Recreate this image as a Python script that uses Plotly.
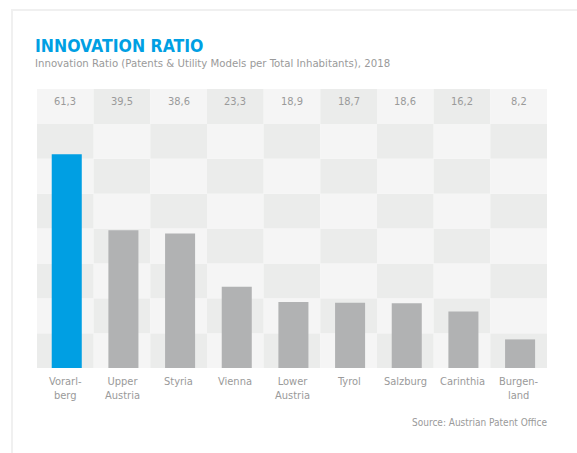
import plotly.graph_objects as go

regions = ["Vorarlberg", "Upper Austria", "Styria", "Vienna", "Lower Austria",
           "Tyrol", "Salzburg", "Carinthia", "Burgenland"]
tick_labels = ["Vorarl-<br>berg", "Upper<br>Austria", "Styria", "Vienna",
               "Lower<br>Austria", "Tyrol", "Salzburg", "Carinthia", "Burgen-<br>land"]
ratio = [61.3, 39.5, 38.6, 23.3, 18.9, 18.7, 18.6, 16.2, 8.2]
highlight = "Vorarlberg"

title = "INNOVATION RATIO"
subtitle = "Innovation Ratio (Patents & Utility Models per Total Inhabitants), 2018"
source = "Source: Austrian Patent Office"

W, H = 577, 453
L, R, T, B = 37, 547, 89, 368
def px(x): return (x - L) / (R - L)
def py(y): return (B - y) / (B - T)

FONT = "Liberation Sans Narrow, DejaVu Sans Condensed, Roboto Condensed, Roboto, sans-serif"
BLUE = "#009fe3"
GREY = "#b1b2b3"
TXT = "#9a9a9a"
LIGHT = "#f5f5f5"
DARK = "#ebeceb"

xs = list(range(len(regions)))
colors = [BLUE if r == highlight else GREY for r in regions]

fig = go.Figure()
fig.add_trace(go.Bar(x=xs, y=ratio, marker=dict(color=colors, line=dict(width=0)),
                     width=0.53, offset=-0.24, hoverinfo="skip"))

shapes = []
# card frame
shapes.append(dict(type="rect", xref="paper", yref="paper",
                   x0=px(12), x1=px(600), y0=py(10), y1=py(480),
                   line=dict(color="#f0f0f0", width=2), fillcolor="white", layer="below"))
nrows = 8
for r in range(nrows):
    from_top = nrows - 1 - r
    for c in xs:
        col = DARK if (from_top + c) % 2 == 1 else LIGHT
        shapes.append(dict(type="rect", xref="x", yref="y",
                           x0=c - 0.5, x1=c + 0.5, y0=r * 10, y1=r * 10 + 10,
                           line=dict(width=0), fillcolor=col, layer="below"))

ann = []
for c, v in zip(xs, ratio):
    ann.append(dict(x=c, y=76.4, xref="x", yref="y", text=f"{v:.1f}".replace(".", ","),
                    showarrow=False, font=dict(family=FONT, size=11, color=TXT),
                    xanchor="center", yanchor="middle"))
for c, lab in zip(xs, tick_labels):
    ann.append(dict(x=c, y=py(373), xref="x", yref="paper", text=lab,
                    showarrow=False, font=dict(family=FONT, size=11, color=TXT),
                    xanchor="center", yanchor="top"))
ann.append(dict(x=px(33), y=py(46), xref="paper", yref="paper", text=f"<b>{title}</b>",
                showarrow=False, font=dict(family=FONT, size=17.5, color=BLUE),
                xanchor="left", yanchor="middle"))
ann.append(dict(x=px(33), y=py(64), xref="paper", yref="paper", text=subtitle,
                showarrow=False, font=dict(family=FONT, size=11.3, color=TXT),
                xanchor="left", yanchor="middle"))
ann.append(dict(x=px(549), y=py(422), xref="paper", yref="paper", text=source,
                showarrow=False, font=dict(family=FONT, size=10, color=TXT),
                xanchor="right", yanchor="middle"))

fig.update_layout(
    width=W, height=H,
    margin=dict(l=L, r=W - R, t=T, b=H - B, pad=0),
    paper_bgcolor="white", plot_bgcolor="rgba(0,0,0,0)",
    showlegend=False, shapes=shapes, annotations=ann,
    xaxis=dict(range=[-0.5, 8.5], showgrid=False, zeroline=False, showticklabels=False,
               ticks="", showline=False, fixedrange=True),
    yaxis=dict(range=[0, 80], showgrid=False, zeroline=False, showticklabels=False,
               ticks="", showline=False, fixedrange=True),
)
fig.write_html("out.html", config={"displayModeBar": False},
               post_script="document.body.style.margin='0px';document.body.style.overflow='hidden';")
